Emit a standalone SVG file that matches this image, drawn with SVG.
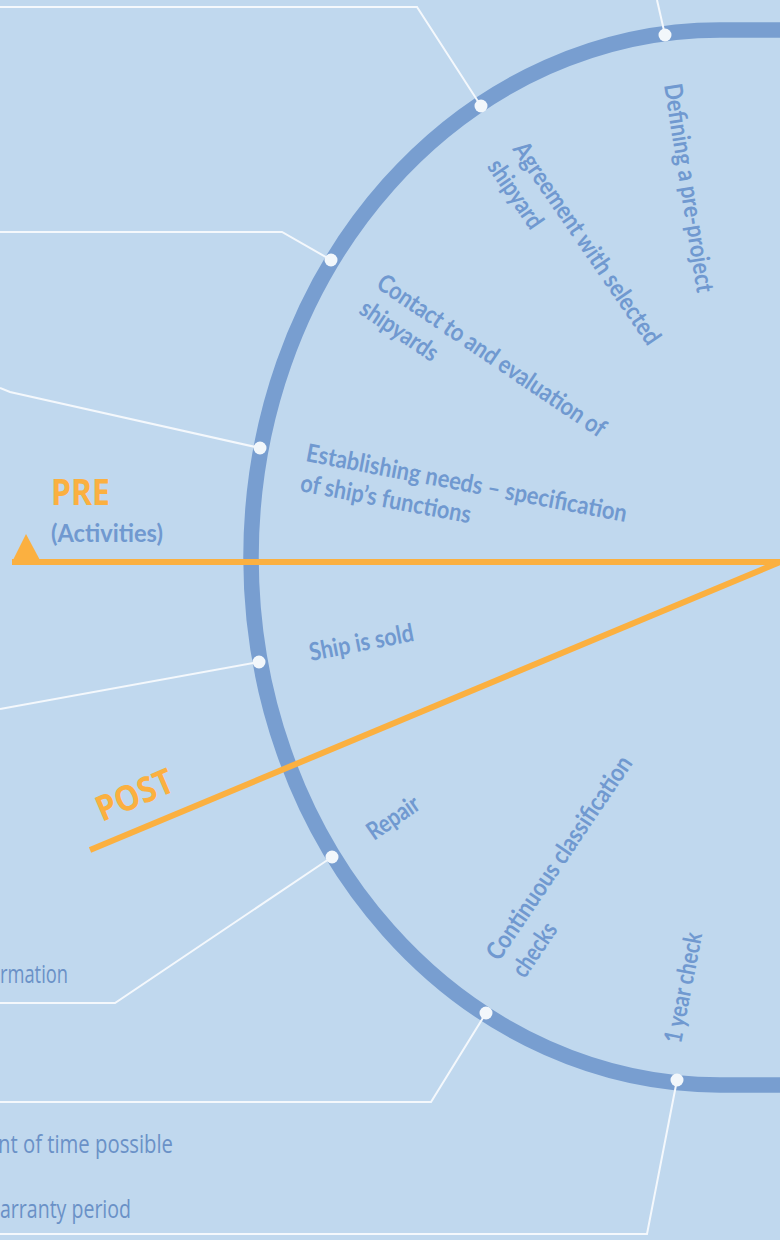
<svg xmlns="http://www.w3.org/2000/svg" width="780" height="1240" viewBox="0 0 780 1240">
  <style>
    .lbl { font-family: Lato, "Open Sans", "Noto Sans", sans-serif; font-weight: 700; font-size: 25px; fill: #7099d0; }
    .side { font-family: "Open Sans", "Noto Sans", "Liberation Sans", sans-serif; font-weight: 400; font-size: 26px; fill: #6a91c7; }
    .phase { font-family: "Open Sans", "Noto Sans", "Liberation Sans", sans-serif; font-weight: 700; font-size: 35px; fill: #fbb040; }
    .conn { fill: none; stroke: #f4f8fc; stroke-width: 2; stroke-linejoin: miter; }
    .dot { fill: #f2f7fb; }
    .orange { stroke: #fbb040; stroke-width: 6; fill: none; }
  </style>
  <rect x="0" y="0" width="780" height="1240" fill="#c0d8ee"/>

  <!-- cycle arc -->
  <g id="cycle">
    <path d="M780,30 L720,30 A469,527.5 0 0 0 720,1085 L780,1085" fill="none" stroke="#789ed0" stroke-width="15.5"/>
  </g>

  <!-- connectors -->
  <g id="connectors">
    <path class="conn" d="M657,0 L665,35"/>
    <path class="conn" d="M0,7 L417,7 L481,106"/>
    <path class="conn" d="M0,232 L282,232 L331,260"/>
    <path class="conn" d="M0,388 L10,392 L260,448"/>
    <path class="conn" d="M0,709 L259,662"/>
    <path class="conn" d="M0,1003 L115,1003 L332,857"/>
    <path class="conn" d="M0,1102 L431,1102 L486,1013"/>
    <path class="conn" d="M0,1234 L647,1234 L677,1080"/>
  </g>

  <!-- orange axes -->
  <g id="axes">
    <line class="orange" x1="12" y1="562" x2="780" y2="562"/>
    <line class="orange" x1="780" y1="562" x2="90" y2="850"/>
    <polygon points="12,562 26,534 41,562" fill="#fbb040"/>
  </g>

  <g id="phase-pre">
    <text class="phase" x="51" y="505" textLength="59" lengthAdjust="spacingAndGlyphs">PRE</text>
    <text class="lbl" x="51" y="542" style="font-size:25px" textLength="112" lengthAdjust="spacingAndGlyphs">(Activities)</text>
  </g>
  <g id="phase-post">
    <text class="phase" transform="translate(102,822) rotate(-23)" textLength="81" lengthAdjust="spacingAndGlyphs">POST</text>
  </g>

  <!-- nodes -->
  <g id="node-defining">
    <circle class="dot" cx="665" cy="35" r="6.5"/>
    <g transform="translate(664,85) rotate(81)">
      <text class="lbl" x="0" y="0" textLength="211" lengthAdjust="spacingAndGlyphs">Defining a pre-project</text>
    </g>
  </g>
  <g id="node-agreement">
    <circle class="dot" cx="481" cy="106" r="6.5"/>
    <g transform="translate(512,149) rotate(55.5)">
      <text class="lbl" x="0" y="0" textLength="240" lengthAdjust="spacingAndGlyphs">Agreement with selected</text>
      <text class="lbl" x="0" y="31" textLength="78" lengthAdjust="spacingAndGlyphs">shipyard</text>
    </g>
  </g>
  <g id="node-contact">
    <circle class="dot" cx="331" cy="260" r="6.5"/>
    <g transform="translate(375,287) rotate(34)">
      <text class="lbl" x="0" y="0" textLength="270" lengthAdjust="spacingAndGlyphs">Contact to and evaluation of</text>
      <text class="lbl" x="0" y="31" textLength="89" lengthAdjust="spacingAndGlyphs">shipyards</text>
    </g>
  </g>
  <g id="node-establishing">
    <circle class="dot" cx="260" cy="448" r="6.5"/>
    <g transform="translate(305,461) rotate(10.8)">
      <text class="lbl" x="0" y="0" textLength="326" lengthAdjust="spacingAndGlyphs">Establishing needs – specification</text>
      <text class="lbl" x="0" y="30.5" textLength="173" lengthAdjust="spacingAndGlyphs">of ship’s functions</text>
    </g>
  </g>
  <g id="node-sold">
    <circle class="dot" cx="259" cy="662" r="6.5"/>
    <text class="lbl" transform="translate(311,661) rotate(-11)" textLength="106" lengthAdjust="spacingAndGlyphs">Ship is sold</text>
  </g>
  <g id="node-repair">
    <circle class="dot" cx="332" cy="857" r="6.5"/>
    <text class="lbl" transform="translate(374,841) rotate(-34.5)" textLength="58" lengthAdjust="spacingAndGlyphs">Repair</text>
    <text class="side" x="68" y="983" text-anchor="end" textLength="68" lengthAdjust="spacingAndGlyphs">rmation</text>
  </g>
  <g id="node-continuous">
    <circle class="dot" cx="486" cy="1013" r="6.5"/>
    <g transform="translate(499,962) rotate(-56)">
      <text class="lbl" x="0" y="0" textLength="240" lengthAdjust="spacingAndGlyphs">Continuous classification</text>
      <text class="lbl" x="0" y="31" textLength="60" lengthAdjust="spacingAndGlyphs">checks</text>
    </g>
    <text class="side" x="173" y="1153" text-anchor="end" textLength="175" lengthAdjust="spacingAndGlyphs">nt of time possible</text>
  </g>
  <g id="node-1year">
    <circle class="dot" cx="677" cy="1080" r="6.5"/>
    <text class="lbl" transform="translate(681,1044) rotate(-79)" textLength="112" lengthAdjust="spacingAndGlyphs">1 year check</text>
    <text class="side" x="131" y="1218" text-anchor="end" textLength="131" lengthAdjust="spacingAndGlyphs">arranty period</text>
  </g>
</svg>
